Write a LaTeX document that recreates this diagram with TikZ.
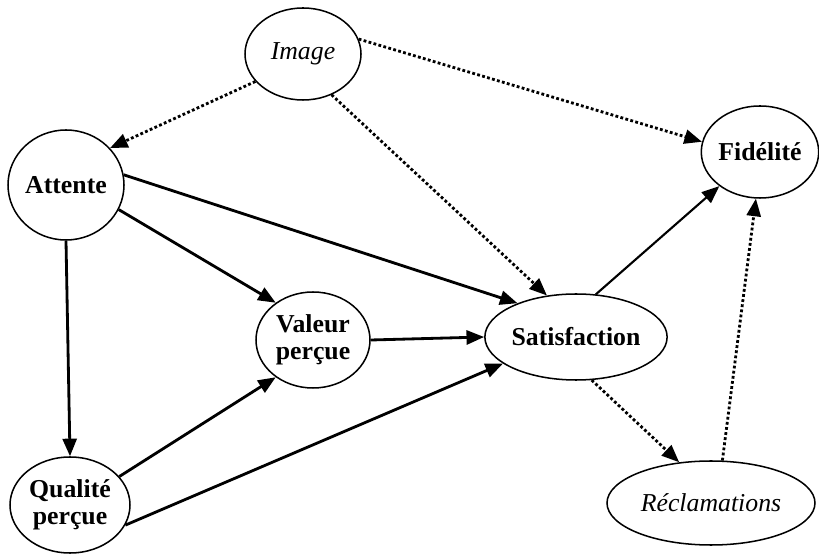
\documentclass[tikz,border=0pt]{standalone}
\usepackage{fontspec}
\setmainfont{Liberation Serif}
\usepackage{tikz}
\usetikzlibrary{shapes.geometric}
\usetikzlibrary{arrows.meta}
\tikzset{construct/.style={ellipse, draw=black, line width=1.3pt, inner sep=0pt, align=center, font=\fontsize{22}{23}\selectfont\bfseries}}
\tikzset{latent/.style={construct, font=\fontsize{22}{23}\selectfont\itshape}}
\tikzset{causal/.style={-{Triangle[length=15pt,width=12pt]}, line width=2.4pt}}
\tikzset{weak/.style={-{Triangle[length=15pt,width=12pt]}, line width=2.4pt, dotted}}

\begin{document}
\begin{tikzpicture}[x=0.3mm, y=-0.3mm]
    \useasboundingbox (0,0) rectangle (819,554);

    \node[latent, minimum width=116*0.3mm, minimum height=92*0.3mm]      (image)     at (303,54)   {Image};
    \node[construct, minimum width=116*0.3mm, minimum height=110*0.3mm]  (attente)   at (66,185)   {Attente};
    \node[construct, minimum width=114*0.3mm, minimum height=96*0.3mm]   (valeur)    at (313,340)  {Valeur\\per\c{c}ue};
    \node[construct, minimum width=144*0.3mm, minimum height=86*0.3mm]   (satis)     at (576,337)  {Satisfaction};
    \node[construct, minimum width=120*0.3mm, minimum height=96*0.3mm]   (qualite)   at (70,505)   {Qualit\'e\\per\c{c}ue};
    \node[latent, minimum width=208*0.3mm, minimum height=84*0.3mm]      (reclam)    at (711,503)  {R\'eclamations};
    \node[construct, minimum width=112*0.3mm, minimum height=92*0.3mm]   (fidelite)  at (760,152)  {Fid\'elit\'e};

    \draw[weak] (image.210) -- (attente.40);
    \draw[weak] (image.-55) -- (satis.125);
    \draw[weak] (image.15) -- (fidelite.170);
    \draw[causal] (attente.10) -- (satis.150);
    \draw[causal] (attente.-25) -- (valeur.135);
    \draw[causal] (attente.south) -- (qualite.north);
    \draw[causal] (qualite.30) -- (valeur.-135);
    \draw[causal] (qualite.-20) -- (satis.-160);
    \draw[causal] (valeur.east) -- (satis.west);
    \draw[causal, line width=1.8pt] (satis.65) -- (fidelite.-140);
    \draw[weak] (satis.-70) -- (reclam.128);
    \draw[weak] (reclam.75) -- (fidelite.-95);
\end{tikzpicture}
\end{document}
